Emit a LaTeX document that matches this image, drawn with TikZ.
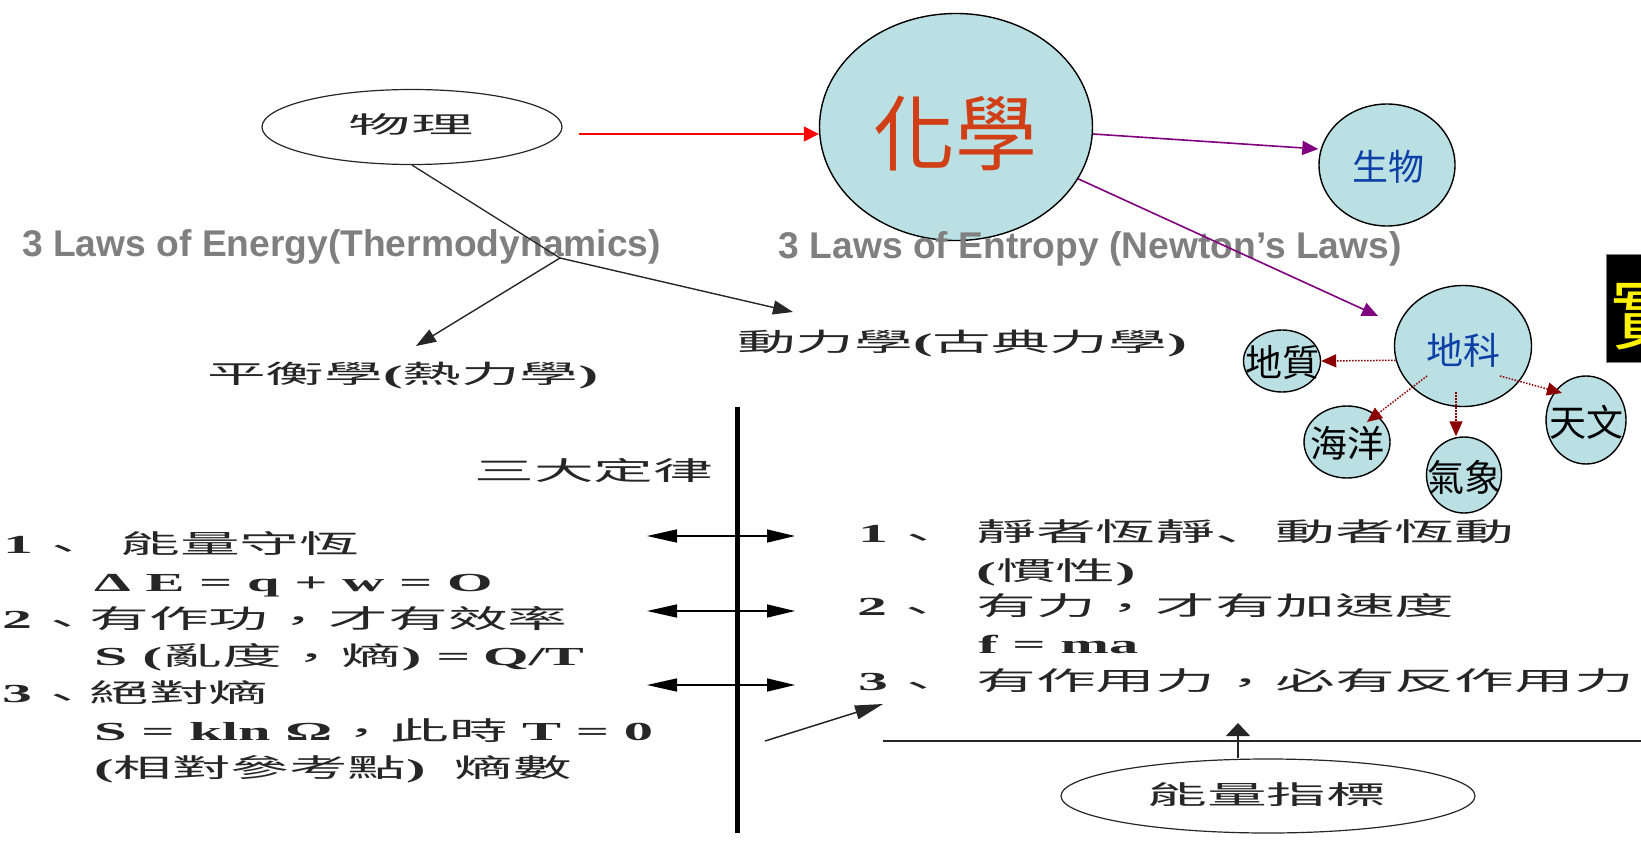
\documentclass[tikz,border=0pt]{standalone}
\usepackage{fontspec}
\usepackage{graphicx}
\setmainfont{Liberation Serif}
\setsansfont{Liberation Sans}
\newfontfamily\cjk{Noto Sans CJK TC}
\newfontfamily\cjkp{Noto Sans CJK SC}
\usetikzlibrary{arrows.meta,shapes.geometric}
\definecolor{lblue}{HTML}{BAE0E3}
\definecolor{hxred}{HTML}{D13F17}
\definecolor{tblue}{HTML}{0D3FA6}
\definecolor{txt}{HTML}{262626}
\definecolor{purp}{HTML}{800080}
\definecolor{dred}{HTML}{8B0000}
\definecolor{gtext}{HTML}{7F7F7F}
\newcommand\pdun{\raisebox{-0.22em}{\cjk 、}}
\newcommand\pdin{{\cjkp 、}}
\newcommand\pcom{\raisebox{-0.1em}{\cjk ，}}
\newcommand\lowt[1]{\scalebox{2.3}[1]{\fontsize{26}{26}\selectfont #1}}
\newcommand\lowl[1]{\scalebox{2.25}[1]{\fontsize{26}{26}\selectfont #1}}
\newcommand\midt[1]{\scalebox{2.3}[1]{\fontsize{25.5}{25.5}\selectfont #1}}
\begin{document}
\begin{tikzpicture}[x=1pt,y=-1pt,
  txtnode/.style={inner sep=0,anchor=base west,text=txt},
  blob/.style={ellipse,draw=black,line width=1.4pt,fill=lblue,inner sep=0},
  blobtxt/.style={inner sep=0,font={\cjk\fontsize{37}{37}\selectfont},text=black},
  thinline/.style={draw=txt,line width=1.3pt},
  blkarr/.style={draw=txt,line width=1.4pt,-{Triangle[length=20pt,width=14pt]}},
  redarr/.style={draw=red,line width=1.6pt,-{Triangle[length=15pt,width=15pt]}},
  purarr/.style={draw=purp,line width=1.6pt,-{Triangle[length=16pt,width=14pt]}},
  dotarr/.style={draw=dred,line width=1.5pt,dash pattern=on 1.5pt off 1.5pt,-{Triangle[length=15pt,width=13pt]}},
  dblarr/.style={draw=black,line width=1.5pt,{Triangle[length=30pt,width=13pt]}-{Triangle[length=28pt,width=13pt]}},
  lowarr/.style={draw=txt,line width=1.5pt,-{Triangle[length=28pt,width=14pt]}},
  uparr/.style={draw=txt,line width=1.5pt,-{Triangle[length=13pt,width=24pt]}}
]
\useasboundingbox (0,0) rectangle (1641,843);
\clip (0,0) rectangle (1641,843);

% ---------- top left: physics ----------
\node[ellipse,draw=txt,line width=1.2pt,inner sep=0,minimum width=300pt,minimum height=75pt] (wl) at (412,127) {};
\node[inner sep=0,text=txt] (wlt) at (411,125) {\scalebox{2.65}[1]{\fontsize{23.5}{23.5}\selectfont\cjk 物理}};

\node[txtnode,text=gtext,font={\sffamily\bfseries\fontsize{37.2}{37.2}\selectfont}] (g1) at (22,256) {3 Laws of Energy(Thermodynamics)};

\node[txtnode] (pj) at (207,383) {\midt{{\cjk 平衡學}{\bfseries (}{\cjk 熱力學}{\bfseries )}}};
\node[txtnode] (dl) at (737,351) {\midt{{\cjk 動力學}{\bfseries (}{\cjk 古典力學}{\bfseries )}}};

\coordinate (J) at (560,258);
\coordinate (pjt) at (416,346);
\coordinate (dlt) at (793,312);
\draw[thinline] (wl.south) -- (J);
\draw[blkarr] (J) -- (pjt);
\draw[blkarr] (J) -- (dlt);

% ---------- top right: chemistry cluster ----------
\node[blob,minimum width=273pt,minimum height=227pt] (hx) at (956,127) {};
\node[inner sep=0,text=hxred,font={\cjk\fontsize{82}{82}\selectfont}] (hxt) at (955,134) {化學};

\node[txtnode,text=gtext,font={\sffamily\bfseries\fontsize{37.2}{37.2}\selectfont}] (g2) at (778.5,258) {3 Laws of Entropy (Newton’s Laws)};

\node[blob,minimum width=136pt,minimum height=122pt] (sw) at (1387,165) {};
\node[inner sep=0,text=tblue,font={\cjk\fontsize{36}{36}\selectfont}] (swt) at (1388,167) {生物};

\node[blob,minimum width=137pt,minimum height=121pt] (dk) at (1463,346) {};
\node[inner sep=0,text=tblue,font={\cjk\fontsize{37}{37}\selectfont}] (dkt) at (1463,350) {地科};

\node[blob,minimum width=77pt,minimum height=62pt] (dz) at (1282,361) {};
\node[blobtxt] (dzt) at (1282,363) {地質};
\node[blob,minimum width=86pt,minimum height=72pt] (hy) at (1347,442) {};
\node[blobtxt] (hyt) at (1347,443) {海洋};
\node[blob,minimum width=75pt,minimum height=76pt] (qx) at (1464,475) {};
\node[blobtxt] (qxt) at (1464,477) {氣象};
\node[blob,minimum width=80pt,minimum height=88pt] (tw) at (1586,420) {};
\node[blobtxt] (twt) at (1586,422) {天文};

\draw[redarr] ([shift={(16,7)}]wl.east) -- ([yshift=-7pt]hx.west);
\draw[purarr] ([yshift=-7pt]hx.east) -- ([yshift=16pt]sw.west);
\draw[purarr] (hx.-23.6) -- ([shift={(-85,-30)}]dk.center);

\draw[dotarr] (dk.192.8) -- (dz.east);
\draw[dotarr] ([shift={(-36,30)}]dk.center) -- ([shift={(20,-20)}]hy.center);
\draw[dotarr] ([shift={(-7,46)}]dk.center) -- ([xshift=-8pt]qx.north);
\draw[dotarr] ([shift={(37,30)}]dk.center) -- ([shift={(-24,-27)}]tw.center);

\node[fill=black,draw=gray,line width=0.8pt,minimum width=60pt,minimum height=108pt,anchor=north west,inner sep=0] (sbox) at (1606,254) {};
\node[inner sep=0,anchor=west,text=yellow,font={\cjk\fontsize{80}{80}\selectfont}] (shi) at (1610,313) {實};

% ---------- bottom: three laws ----------
\coordinate (vt) at (737,407);
\coordinate (vb) at (737,833);
\draw[line width=5pt,draw=black] (vt) -- (vb);

\node[txtnode] (sd) at (474,480) {\lowt{\cjk 三大定律}};

\coordinate (a1l) at (647,536); \coordinate (a1r) at (795,536);
\coordinate (a2l) at (647,611); \coordinate (a2r) at (795,611);
\coordinate (a3l) at (647,685); \coordinate (a3r) at (795,685);
\draw[dblarr] (a1l) -- (a1r);
\draw[dblarr] (a2l) -- (a2r);
\draw[dblarr] (a3l) -- (a3r);

% left column
\node[txtnode] (n1) at (3,553) {\lowt{{\bfseries 1}\pdun}};
\node[txtnode] (c1) at (120,553) {\lowt{\cjk 能量守恆}};
\node[txtnode] (e1) at (94,591) {\lowl{\bfseries Δ E = q + w = O}};
\node[txtnode] (n2) at (2,628) {\lowt{{\bfseries 2}\pdun}};
\node[txtnode] (c2) at (89,628) {\lowt{\cjk 有作功\pcom 才有效率}};
\node[txtnode] (e2a) at (94,665) {\lowt{{\bfseries S (}{\cjk 亂度\pcom 熵}{\bfseries ) =}}};
\node[txtnode] (e2d) at (483,665) {\lowl{\bfseries Q/T}};
\node[txtnode] (n3) at (2,702) {\lowt{{\bfseries 3}\pdun}};
\node[txtnode] (c3) at (89,702) {\lowt{\cjk 絕對熵}};
\node[txtnode] (e3a) at (94,740) {\lowl{{\bfseries S = kln Ω}{\cjk \pcom 此時}{\bfseries\ T = 0}}};
\node[txtnode] (c4) at (94,777) {\lowl{{\bfseries (}{\cjk 相對參考點}{\bfseries )\ \ }{\cjk 熵數}}};

% right column
\node[txtnode] (m1) at (858,542) {\lowt{{\bfseries 1}\pdun}};
\node[txtnode] (r1) at (976,541) {\lowt{\cjk 靜者恆靜\pdin 動者恆動}};
\node[txtnode] (r1b) at (976,580) {\lowt{{\bfseries (}{\cjk 慣性}{\bfseries )}}};
\node[txtnode] (m2) at (857,615) {\lowt{{\bfseries 2}\pdun}};
\node[txtnode] (r2) at (976,615) {\lowt{\cjk 有力\pcom 才有加速度}};
\node[txtnode] (r2b) at (978,653) {\lowl{\bfseries f = ma}};
\node[txtnode] (m3) at (858,690) {\lowt{{\bfseries 3}\pdun}};
\node[txtnode] (r3) at (976,690) {\lowt{\cjk 有作用力\pcom 必有反作用力}};

\coordinate (la0) at (765,741);
\coordinate (la1) at (883,704);
\draw[lowarr] (la0) -- (la1);
\coordinate (hl0) at (883,741);
\coordinate (hl1) at (1641,741);
\draw[thinline,line width=1.5pt] (hl0) -- (hl1);

\node[ellipse,draw=txt,line width=1.2pt,inner sep=0,minimum width=414pt,minimum height=74pt] (nz) at (1268,796) {};
\node[txtnode] (nzt) at (1147,804) {\lowt{\cjk 能量指標}};
\coordinate (upt) at (1238,723);
\draw[uparr] ([xshift=-30pt]nz.north) -- (upt);
\end{tikzpicture}
\end{document}
